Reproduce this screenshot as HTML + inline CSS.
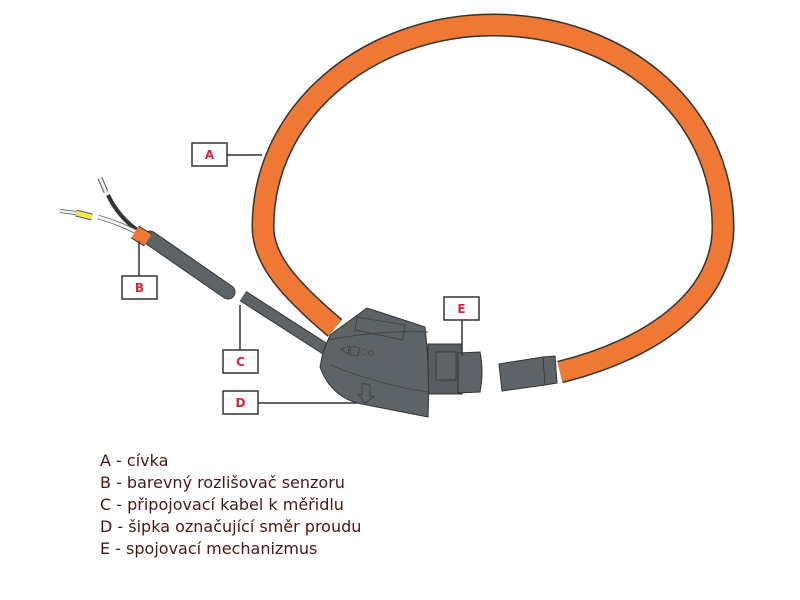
<!DOCTYPE html>
<html><head><meta charset="utf-8"><style>
html,body{margin:0;padding:0;background:#fff;}
.wrap{position:relative;width:800px;height:600px;overflow:hidden;}
.leg{position:absolute;left:100px;top:450px;font-family:"DejaVu Sans","Liberation Sans",sans-serif;font-size:16px;color:#4a1616;line-height:22px;}
</style></head><body><div class="wrap">
<svg width="800" height="600" viewBox="0 0 800 600" style="position:absolute;left:0;top:0">
<path d="M 335 328 C 290 290, 263 260, 263 227 C 263 110, 370 25, 493 25 C 620 25, 723 110, 723 227 C 723 300, 650 350, 560 372" fill="none" stroke="#333" stroke-width="23"/>
<path d="M 335 328 C 290 290, 263 260, 263 227 C 263 110, 370 25, 493 25 C 620 25, 723 110, 723 227 C 723 300, 650 350, 560 372" fill="none" stroke="#ee7834" stroke-width="20"/>
<path d="M 108 195 C 115 210, 125 222, 140 232" fill="none" stroke="#333" stroke-width="4"/>
<line x1="100" y1="178" x2="106" y2="192" stroke="#555" stroke-width="5"/>
<line x1="100" y1="178" x2="106" y2="192" stroke="#eee" stroke-width="3"/>
<path d="M 98 217 C 115 222, 125 226, 140 234" fill="none" stroke="#555" stroke-width="4.5"/>
<path d="M 98 217 C 115 222, 125 226, 140 234" fill="none" stroke="#f4f4f4" stroke-width="3"/>
<line x1="60" y1="211" x2="76" y2="213" stroke="#555" stroke-width="4"/>
<line x1="60" y1="211" x2="76" y2="213" stroke="#eee" stroke-width="2.5"/>
<line x1="76" y1="213" x2="92" y2="217" stroke="#555" stroke-width="7"/>
<line x1="76" y1="213" x2="92" y2="217" stroke="#f2e94e" stroke-width="5"/>
<line x1="150" y1="238" x2="228" y2="292" stroke="#333" stroke-width="15" stroke-linecap="round"/>
<line x1="150" y1="238" x2="228" y2="292" stroke="#5d6366" stroke-width="13" stroke-linecap="round"/>
<line x1="135" y1="232" x2="148" y2="240" stroke="#333" stroke-width="15"/>
<line x1="135" y1="232" x2="148" y2="240" stroke="#ee7834" stroke-width="13"/>
<line x1="243" y1="296" x2="330" y2="352" stroke="#333" stroke-width="12"/>
<line x1="243" y1="296" x2="330" y2="352" stroke="#5d6366" stroke-width="10"/>
<rect x="428" y="344" width="34" height="50" fill="#565c5f" stroke="#333"/>
<rect x="436" y="352" width="20" height="28" fill="#5d6366" stroke="#333" stroke-width="0.8"/>
<path d="M 458 353 L 480 352 Q 484 372 480 392 L 458 393 Z" fill="#5d6366" stroke="#333"/>
<path d="M 323 352 L 330 335 L 367 308 L 425 327 Q 430 370 428 417 L 357 403 Q 330 395 320 367 Z" fill="#5d6366" stroke="#333"/>
<path d="M 328 340 Q 380 330 428 332" fill="none" stroke="#3e4346" stroke-width="1"/>
<path d="M 330 365 Q 380 385 428 392" fill="none" stroke="#3e4346" stroke-width="0.8"/>
<polygon points="357,317 405,325 403,340 355,330" fill="none" stroke="#3e4346" stroke-width="1"/>
<text x="340" y="355" font-family="Liberation Sans,sans-serif" font-size="12" fill="#333" transform="rotate(8 360 350)">◁▢◌○</text>
<polygon points="362,383 370,385 370,396 374,397 365,403 358,394 362,395" fill="none" stroke="#3e4346" stroke-width="1"/>
<polygon points="499,364 543,357 555,356 557,383 545,385 502,391" fill="#5d6366" stroke="#333"/>
<line x1="543" y1="357" x2="545" y2="385" stroke="#333" stroke-width="0.8"/>
<g fill="#fff" stroke="#333" stroke-width="1.5">
<rect x="192" y="143" width="35" height="23"/>
<rect x="122" y="276" width="35" height="23"/>
<rect x="223" y="350" width="35" height="23"/>
<rect x="223" y="391" width="35" height="23"/>
<rect x="444" y="297" width="35" height="23"/>
</g>
<g stroke="#333" stroke-width="1.5">
<line x1="227" y1="155" x2="262" y2="155"/>
<line x1="139" y1="276" x2="139" y2="241"/>
<line x1="240" y1="350" x2="240" y2="305"/>
<line x1="258" y1="403" x2="357" y2="403"/>
<line x1="462" y1="320" x2="462" y2="356"/>
</g>
<g font-family="DejaVu Sans,Liberation Sans,sans-serif" font-size="12" font-weight="bold" fill="#d8243a" text-anchor="middle">
<text x="209.5" y="159">A</text>
<text x="139.5" y="292">B</text>
<text x="240.5" y="366">C</text>
<text x="240.5" y="407">D</text>
<text x="461.5" y="313">E</text>
</g>
</svg>
<div class="leg">A - cívka<br>B - barevný rozlišovač senzoru<br>C - připojovací kabel k měřidlu<br>D - šipka označující směr proudu<br>E - spojovací mechanizmus</div>
</div></body></html>
